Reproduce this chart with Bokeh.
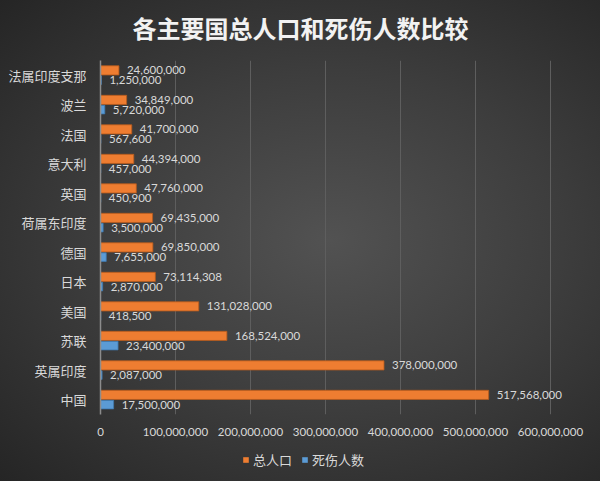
from bokeh.plotting import figure
from bokeh.layouts import column
from bokeh.models import (FactorRange, Range1d, FixedTicker, NumeralTickFormatter,
                          ColumnDataSource, Legend, LegendItem)
from bokeh.transform import dodge
from bokeh.core.properties import value
from bokeh.embed import file_html
from bokeh.resources import INLINE

# Data (bottom to top, as in the chart's category axis)
categories = ["中国", "英属印度", "苏联", "美国", "日本", "德国",
              "荷属东印度", "英国", "意大利", "法国", "波兰", "法属印度支那"]
population = [517568000, 378000000, 168524000, 131028000, 73114308, 69850000,
              69435000, 47760000, 44394000, 41700000, 34849000, 24600000]
casualties = [17500000, 2087000, 23400000, 418500, 2870000, 7655000,
              3500000, 450900, 457000, 567600, 5720000, 1250000]
x_ticks = [0, 100000000, 200000000, 300000000, 400000000, 500000000, 600000000]
series_names = ["总人口", "死伤人数"]
title_text = "各主要国总人口和死伤人数比较"

src = ColumnDataSource(dict(
    cat=categories, pop=population, cas=casualties,
    pop_lbl=[f"{v:,}" for v in population],
    cas_lbl=[f"{v:,}" for v in casualties],
))

CJK = "Noto Sans CJK SC"
NUM = "Lato"
LBL = "#d9d9d9"
ORANGE = "#ee7d31"
BLUE = "#5b9bd5"


def strip(height):
    f = figure(width=600, height=height, output_backend="svg", toolbar_location=None,
               x_axis_type=None, y_axis_type=None,
               x_range=Range1d(0, 1), y_range=Range1d(0, 1),
               min_border_left=0, min_border_right=0, min_border_top=0, min_border_bottom=0)
    f.background_fill_alpha = 0
    f.border_fill_alpha = 0
    f.outline_line_color = None
    f.grid.grid_line_color = None
    return f


# ---- title strip (frames in the column are aligned, so its frame starts at x=100)
top = strip(60)
top.title.text = title_text
top.title.align = "left"
top.title.offset = 32
top.title.text_font = CJK
top.title.text_font_size = "24px"
top.title.text_font_style = "bold"
top.title.text_color = "#f2f2f2"
top.title.standoff = 15

# ---- main chart
p = figure(width=600, height=388, output_backend="svg", toolbar_location=None,
           y_range=FactorRange(factors=categories, range_padding=0),
           x_range=Range1d(0, 660000000),
           min_border_left=100, min_border_right=5, min_border_top=0, min_border_bottom=34)
p.background_fill_alpha = 0
p.border_fill_alpha = 0
p.outline_line_color = None

r1 = p.hbar(y=dodge("cat", 0.165, range=p.y_range), left=0, right="pop", height=0.31,
            source=src, fill_color=ORANGE, line_color="#b65a1c", line_width=0.8)
r2 = p.hbar(y=dodge("cat", -0.165, range=p.y_range), left=0, right="cas", height=0.29,
            source=src, fill_color=BLUE, line_color="#3f78ad", line_width=0.8)

p.text(x="pop", y=dodge("cat", 0.165, range=p.y_range), text="pop_lbl", source=src,
       x_offset=8, text_baseline="middle", text_align="left",
       text_font=value(NUM), text_font_size="11.5px", text_color=LBL)
p.text(x="cas", y=dodge("cat", -0.165, range=p.y_range), text="cas_lbl", source=src,
       x_offset=8, text_baseline="middle", text_align="left",
       text_font=value(NUM), text_font_size="11.5px", text_color=LBL)

p.xaxis.ticker = FixedTicker(ticks=x_ticks)
p.xaxis.formatter = NumeralTickFormatter(format="0,0")
p.xaxis.axis_line_color = None
p.xaxis.major_tick_line_color = None
p.xaxis.minor_tick_line_color = None
p.xaxis.major_label_text_color = LBL
p.xaxis.major_label_text_font = NUM
p.xaxis.major_label_text_font_size = "11.5px"
p.xaxis.major_label_standoff = 7

p.yaxis.axis_line_color = "#8c8c8c"
p.yaxis.axis_line_width = 1.5
p.yaxis.major_tick_line_color = None
p.yaxis.minor_tick_line_color = None
p.yaxis.major_label_text_color = LBL
p.yaxis.major_label_text_font = CJK
p.yaxis.major_label_text_font_size = "13px"
p.yaxis.major_label_standoff = 8

p.xgrid.ticker = FixedTicker(ticks=x_ticks)
p.xgrid.grid_line_color = "#5e5e5e"
p.xgrid.grid_line_width = 1
p.ygrid.grid_line_color = None

# ---- legend strip
lg = strip(33)
k1 = lg.hbar(y="pop", left=0, right="pop", height=1, source=src,
             fill_color=ORANGE, line_color=None, visible=False)
k2 = lg.hbar(y="cas", left=0, right="cas", height=1, source=src,
             fill_color=BLUE, line_color=None, visible=False)
legend = Legend(items=[LegendItem(label=series_names[0], renderers=[k1]),
                       LegendItem(label=series_names[1], renderers=[k2])],
                orientation="horizontal", location=(142, 12),
                background_fill_alpha=0, border_line_color=None,
                inactive_fill_alpha=0,
                label_text_color=LBL, label_text_font=CJK, label_text_font_size="13px",
                glyph_width=7, glyph_height=7, label_standoff=4, spacing=9,
                label_height=17, padding=0, margin=0)
lg.add_layout(legend, "center")

layout = column(top, p, lg, spacing=0)
layout.styles = {
    "background": "radial-gradient(ellipse at 55% 50%, #525252 0%, #3d3d3d 50%, #252525 100%)",
}

open("out.html", "w").write(file_html(layout, INLINE))
